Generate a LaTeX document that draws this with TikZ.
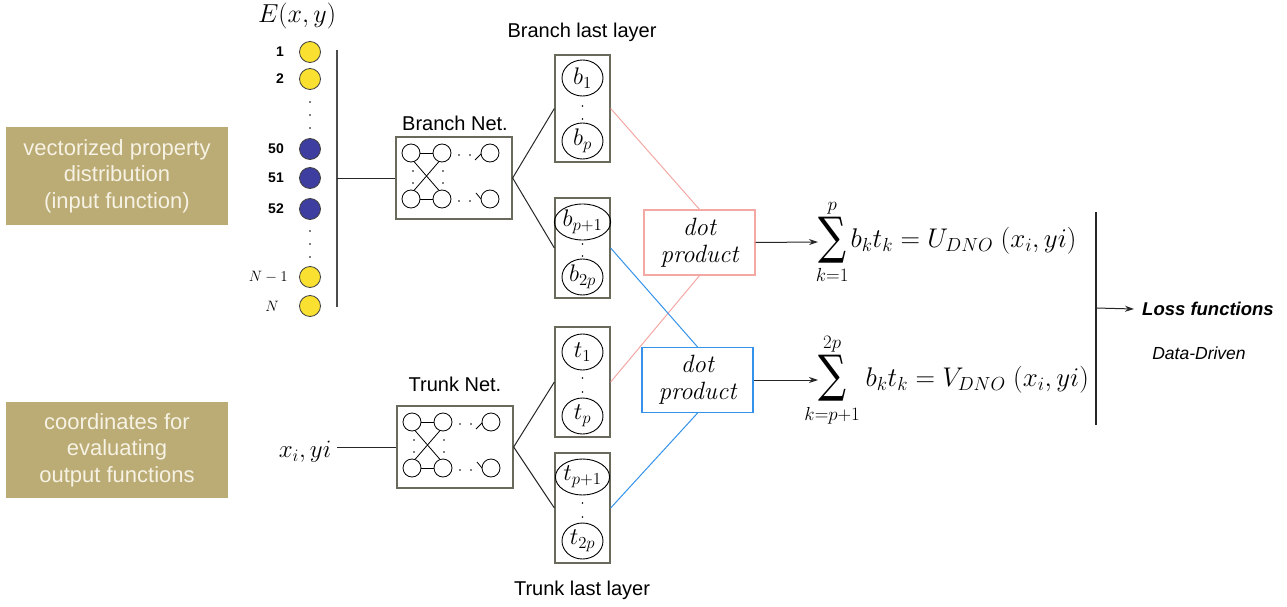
\RequirePackage{fix-cm}
\documentclass[tikz,border=0pt]{standalone}
\usepackage{fontspec}
\usepackage{graphicx}
\usetikzlibrary{arrows.meta,shapes.geometric}
\newfontfamily\arial{Liberation Sans}
\newfontfamily\sumfont{DejaVu Serif}
\definecolor{tanfill}{RGB}{187,171,116}
\definecolor{tantext}{RGB}{246,242,228}
\definecolor{boxline}{RGB}{105,105,92}
\definecolor{yelfill}{RGB}{250,224,48}
\definecolor{bluefill}{RGB}{62,62,160}
\definecolor{pinkline}{RGB}{244,168,164}
\definecolor{blueline}{RGB}{52,146,234}
\newcommand\bigsum{\mathop{\vcenter{\vbox{\kern2pt\hbox{\resizebox*{28pt}{46pt}{\sumfont ∑}}\kern4pt}}}}
\newcommand\limclap[1]{\makebox[0pt]{$\scriptstyle #1$}}
\newcommand\mininet[1]{%
  \begin{scope}[shift={(#1.center)}]
    \foreach \i/\xx in {1/-43,2/-12,3/36}{%
      \node[ncirc] (#1-t\i) at (\xx,-25) {};
      \node[ncirc] (#1-b\i) at (\xx,21) {};
    }
    \draw[netline] (#1-t1) -- (#1-t2);
    \draw[netline] (#1-b1) -- (#1-b2);
    \draw[netline] (#1-t1.-70) -- (#1-b2.110);
    \draw[netline] (#1-t2.-110) -- (#1-b1.70);
    \foreach \xx in {-41,-11}{\fill (\xx,-7) circle (0.8); \fill (\xx,5) circle (0.8);}
    \foreach \xx in {5,16}{\fill (\xx,-23) circle (0.8); \fill (\xx,23) circle (0.8);}
    \draw[netline] (21,-18) -- (27,-24);
    \draw[netline] (22,15) -- (27,21);
  \end{scope}}
\tikzset{
  tanbox/.style={fill=tanfill, draw=none, text=tantext, align=center,
    font=\arial\fontsize{22}{26.5}\selectfont, inner sep=0},
  ycirc/.style={circle, draw=black!75, line width=0.8pt, fill=yelfill, minimum size=21pt, inner sep=0},
  bcirc/.style={circle, draw=black!75, line width=0.8pt, fill=bluefill, minimum size=21pt, inner sep=0},
  clab/.style={font=\arial\bfseries\fontsize{14}{16}\selectfont, inner sep=0, anchor=east},
  netbox/.style={draw=boxline, line width=1.3pt, minimum width=116pt, minimum height=82pt, inner sep=0},
  ncirc/.style={circle, draw=black, line width=0.8pt, minimum size=18pt, inner sep=0},
  netline/.style={line width=0.8pt},
  llbox/.style={draw=boxline, line width=1.3pt, minimum width=55pt, inner sep=0},
  ucirc/.style={ellipse, draw=black, line width=0.9pt, minimum width=41pt, minimum height=36pt, inner sep=0,
    font=\fontsize{24}{26}\selectfont},
  lbl/.style={font=\arial\fontsize{20}{22}\selectfont, inner sep=0},
  conn/.style={line width=1pt, black!85},
  pinkc/.style={line width=1pt, pinkline},
  bluec/.style={line width=1pt, blueline},
  dpbox/.style={line width=1.2pt, minimum width=111pt, minimum height=65pt, inner sep=0, align=center,
    font=\itshape\fontsize{25}{27}\selectfont},
  arr/.style={line width=1pt, black!85, -{Stealth[length=9pt,width=6pt]}},
}
\begin{document}
\begin{tikzpicture}[x=1pt,y=-1pt]
\useasboundingbox (0,0) rectangle (1287,607);
% left tan boxes
\node[tanbox, minimum width=222pt, minimum height=98pt] (in1) at (117,176)
  {vectorized property\\distribution\\(input function)};
\node[tanbox, minimum width=222pt, minimum height=96pt] (in2) at (117,450)
  {coordinates for\\evaluating\\output functions};
% input column
\node[inner sep=0, font=\fontsize{26}{28}\selectfont] (Exy) at (297,16) {$E(x,y)$};
\node[ycirc] (e1) at (310,52) {};
\node[ycirc] (e2) at (310,79) {};
\node[bcirc] (e50) at (310,149) {};
\node[bcirc] (e51) at (310,178) {};
\node[bcirc] (e52) at (310,209) {};
\node[ycirc] (eN1) at (310,277) {};
\node[ycirc] (eN) at (310,306) {};
\node[clab] (l1) at (284,52) {1};
\node[clab] (l2) at (284,79) {2};
\node[clab] (l50) at (284,149) {50};
\node[clab] (l51) at (284,178) {51};
\node[clab] (l52) at (284,209) {52};
\node[inner sep=0, anchor=east, font=\fontsize{15}{16}\selectfont] (lN1) at (288,277) {$N-1$};
\node[inner sep=0, anchor=east, font=\fontsize{15}{16}\selectfont] (lN) at (279,306) {$N$};
\foreach \yy in {102,115,128,231,244,257}{\fill (310,\yy) circle (0.8);}
\coordinate (bartop) at (337,50);
\coordinate (barbot) at (337,307);
\coordinate (barmid) at (337,178);
\draw[line width=1.2pt, black!70] (bartop) -- (barbot);
% branch net
\node[lbl] (bnlab) at (455,123) {Branch Net.};
\node[netbox] (bnet) at (454,178) {};
\mininet{bnet}
\draw[conn] (barmid) -- (bnet.west);
% trunk net
\node[lbl] (tnlab) at (455,384) {Trunk Net.};
\node[netbox] (tnet) at (455,447) {};
\mininet{tnet}
\node[inner sep=0, font=\fontsize{25}{27}\selectfont] (xy) at (305,452) {$x_i, yi$};
\draw[conn] ([xshift=6pt]xy.east |- tnet.west) -- (tnet.west);
% branch last layer
\node[lbl] (bllab) at (582,32) {Branch last layer};
\node[llbox, minimum height=107pt] (bb1) at (582.5,108.5) {};
\node[ucirc] (b1) at (582.5,78) {$b_1$};
\node[ucirc] (bp) at (582.5,141) {$b_p$};
\fill (582.5,106) circle (0.8); \fill (582.5,119) circle (0.8);
\node[llbox, minimum height=100pt] (bb2) at (582.5,248) {};
\node[ucirc] (bp1) at (582.5,222) {$b_{p+1}$};
\node[ucirc] (b2p) at (582.5,277) {$b_{2p}$};
\fill (582.5,244) circle (0.8); \fill (582.5,256) circle (0.8);
% trunk last layer
\node[llbox, minimum height=110pt] (tb1) at (582.5,382) {};
\node[ucirc] (t1) at (582.5,352) {$t_1$};
\node[ucirc] (tp) at (582.5,416) {$t_p$};
\fill (582.5,378) circle (0.8); \fill (582.5,392) circle (0.8);
\node[llbox, minimum height=110pt] (tb2) at (582.5,508) {};
\node[ucirc] (tp1) at (582.5,477) {$t_{p+1}$};
\node[ucirc] (t2p) at (582.5,541) {$t_{2p}$};
\fill (582.5,503) circle (0.8); \fill (582.5,517) circle (0.8);
\node[lbl] (tllab) at (582,590) {Trunk last layer};
% fan-out connectors
\draw[conn] (bnet.east) -- (bb1.west);
\draw[conn] (bnet.east) -- (bb2.west);
\draw[conn] (tnet.east) -- (tb1.west);
\draw[conn] (tnet.east) -- (tb2.west);
% dot products
\node[dpbox, draw=pinkline] (dp1) at (699.5,242.5) {dot\\product};
\node[dpbox, draw=blueline] (dp2) at (697.5,380) {dot\\product};
\draw[pinkc] (bb1.east) -- (dp1.north);
\draw[pinkc] (dp1.south) -- (tb1.east);
\draw[bluec] (bb2.east) -- (dp2.north);
\draw[bluec] (dp2.south) -- (tb2.east);
% formulas
\node[anchor=west, inner sep=0, font=\fontsize{27}{30}\selectfont] (f1) at (818,242)
  {$\bigsum\limits_{\limclap{k=1}}^{p} b_k t_k = U_{DNO}\;(x_i, yi)$};
\node[anchor=west, inner sep=0, font=\fontsize{27}{30}\selectfont] (f2) at (818,380)
  {$\bigsum\limits_{\limclap{k=p+1}}^{\limclap{2p}}\;\; b_k t_k = V_{DNO}\;(x_i, yi)$};
\draw[arr] (dp1.east) -- (f1.west);
\draw[arr] (dp2.east) -- (f2.west);
% loss
\coordinate (lt) at (1096,212);
\coordinate (lb) at (1096,425);
\coordinate (lm) at (1096,308);
\draw[line width=1.2pt, black!85] (lt) -- (lb);
\node[anchor=west, inner sep=0, font=\arial\bfseries\itshape\fontsize{18.5}{21}\selectfont] (loss) at (1142,309) {Loss functions};
\node[inner sep=0, font=\arial\itshape\fontsize{17.5}{20}\selectfont] (dd) at (1199,353) {Data-Driven};
\draw[arr] (lm) -- ([xshift=-8pt]loss.west);
\end{tikzpicture}
\end{document}
